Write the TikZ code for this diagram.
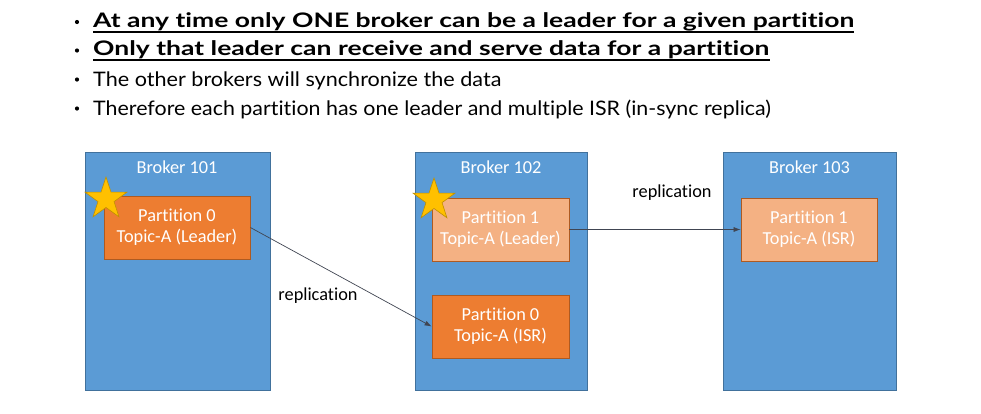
\documentclass[tikz,border=0pt]{standalone}
\usepackage{fontspec}
\setmainfont{Carlito}[Ligatures=NoCommon]
\newfontfamily\bulletfont{Lato}[Ligatures=NoCommon]
\usetikzlibrary{shapes.geometric,arrows.meta}
\definecolor{brokerblue}{HTML}{5B9BD5}
\definecolor{brokeredge}{HTML}{41719C}
\definecolor{orangefill}{HTML}{ED7D31}
\definecolor{orangeedge}{HTML}{AE5A21}
\definecolor{lightorange}{HTML}{F4B183}
\definecolor{starfill}{HTML}{FFC000}
\definecolor{staredge}{HTML}{BF9000}
\definecolor{arrowcol}{HTML}{404552}
\tikzset{
  broker/.style={draw=brokeredge,fill=brokerblue,line width=0.6pt,inner sep=0pt},
  brokerlabel/.style={anchor=base,text=white,font=\fontsize{18.3}{21}\selectfont,inner sep=0pt},
  partbox/.style={draw=orangeedge,line width=0.8pt,inner sep=0pt,align=center,text=white,
    font=\fontsize{18.3}{21}\selectfont,minimum height=63pt},
  leaderstar/.style={star,star points=5,star point ratio=2.6,minimum size=44pt,inner sep=0pt,
    fill=starfill,draw=staredge,line width=0.6pt},
  repl/.style={draw=arrowcol,line width=0.7pt,-{Latex[length=7pt,width=5pt]}},
  repllabel/.style={font=\fontsize{18.3}{21}\selectfont,inner sep=0pt},
  bulletline/.style={anchor=base west,inner sep=0pt,font=\bulletfont\fontsize{20}{24}\selectfont},
  bulletdot/.style={circle,fill=black,inner sep=0pt,minimum size=4.2pt},
  uline/.style={line width=1.6pt}
}
\begin{document}
\begin{tikzpicture}[x=1pt,y=-1pt]
\path[use as bounding box] (0,0) rectangle (981,413);
% bullets
\node[bulletdot] (d1) at (77,22) {};
\node[bulletdot] (d2) at (77,50.5) {};
\node[bulletdot] (d3) at (77,79.5) {};
\node[bulletdot] (d4) at (77,108.5) {};
\node[bulletline] (t1) at (93,27.3) {\scalebox{1.325}[1]{\bfseries At any time only ONE broker can be a leader for a given partition}};
\node[bulletline] (t2) at (93,55.3) {\scalebox{1.325}[1]{\bfseries Only that leader can receive and serve data for a partition}};
\node[bulletline] (t3) at (93,86) {\scalebox{1.08}[1]{The other brokers will synchronize the data}};
\node[bulletline] (t4) at (93,115) {\scalebox{1.07}[1]{Therefore each partition has one leader and multiple ISR (in-sync replica)}};
\draw[uline] ([yshift=-4.5pt]t1.base west) -- ([yshift=-4.5pt]t1.base east);
\draw[uline] ([yshift=-4.5pt]t2.base west) -- ([yshift=-4.5pt]t2.base east);
% brokers
\node[broker,minimum width=185pt,minimum height=238pt] (b1) at (177.5,271) {};
\node[broker,minimum width=172pt,minimum height=238pt] (b2) at (501,271) {};
\node[broker,minimum width=173pt,minimum height=238pt] (b3) at (809.5,271) {};
\node[brokerlabel] (l1) at (177,173) {Broker 101};
\node[brokerlabel] (l2) at (501,173) {Broker 102};
\node[brokerlabel] (l3) at (809.5,173) {Broker 103};
% partitions
\node[partbox,fill=orangefill,minimum width=146pt] (p0l) at (177,227.5) {Partition 0\\Topic-A (Leader)};
\node[partbox,fill=lightorange,minimum width=137pt] (p1l) at (500.5,229.5) {Partition 1\\Topic-A (Leader)};
\node[partbox,fill=orangefill,minimum width=137pt] (p0i) at (500.5,326.5) {Partition 0\\Topic-A (ISR)};
\node[partbox,fill=lightorange,minimum width=136pt] (p1i) at (809,229.5) {Partition 1\\Topic-A (ISR)};
% stars
\node[leaderstar] (s1) at (106,199) {};
\node[leaderstar] (s2) at (434,200) {};
% replication
\draw[repl] (p0l.east) -- (p0i.west);
\draw[repl] (p1l.east) -- (p1i.west);
\node[repllabel] (r1) at (318,296) {replication};
\node[repllabel] (r2) at (672,193) {replication};
\end{tikzpicture}
\end{document}
